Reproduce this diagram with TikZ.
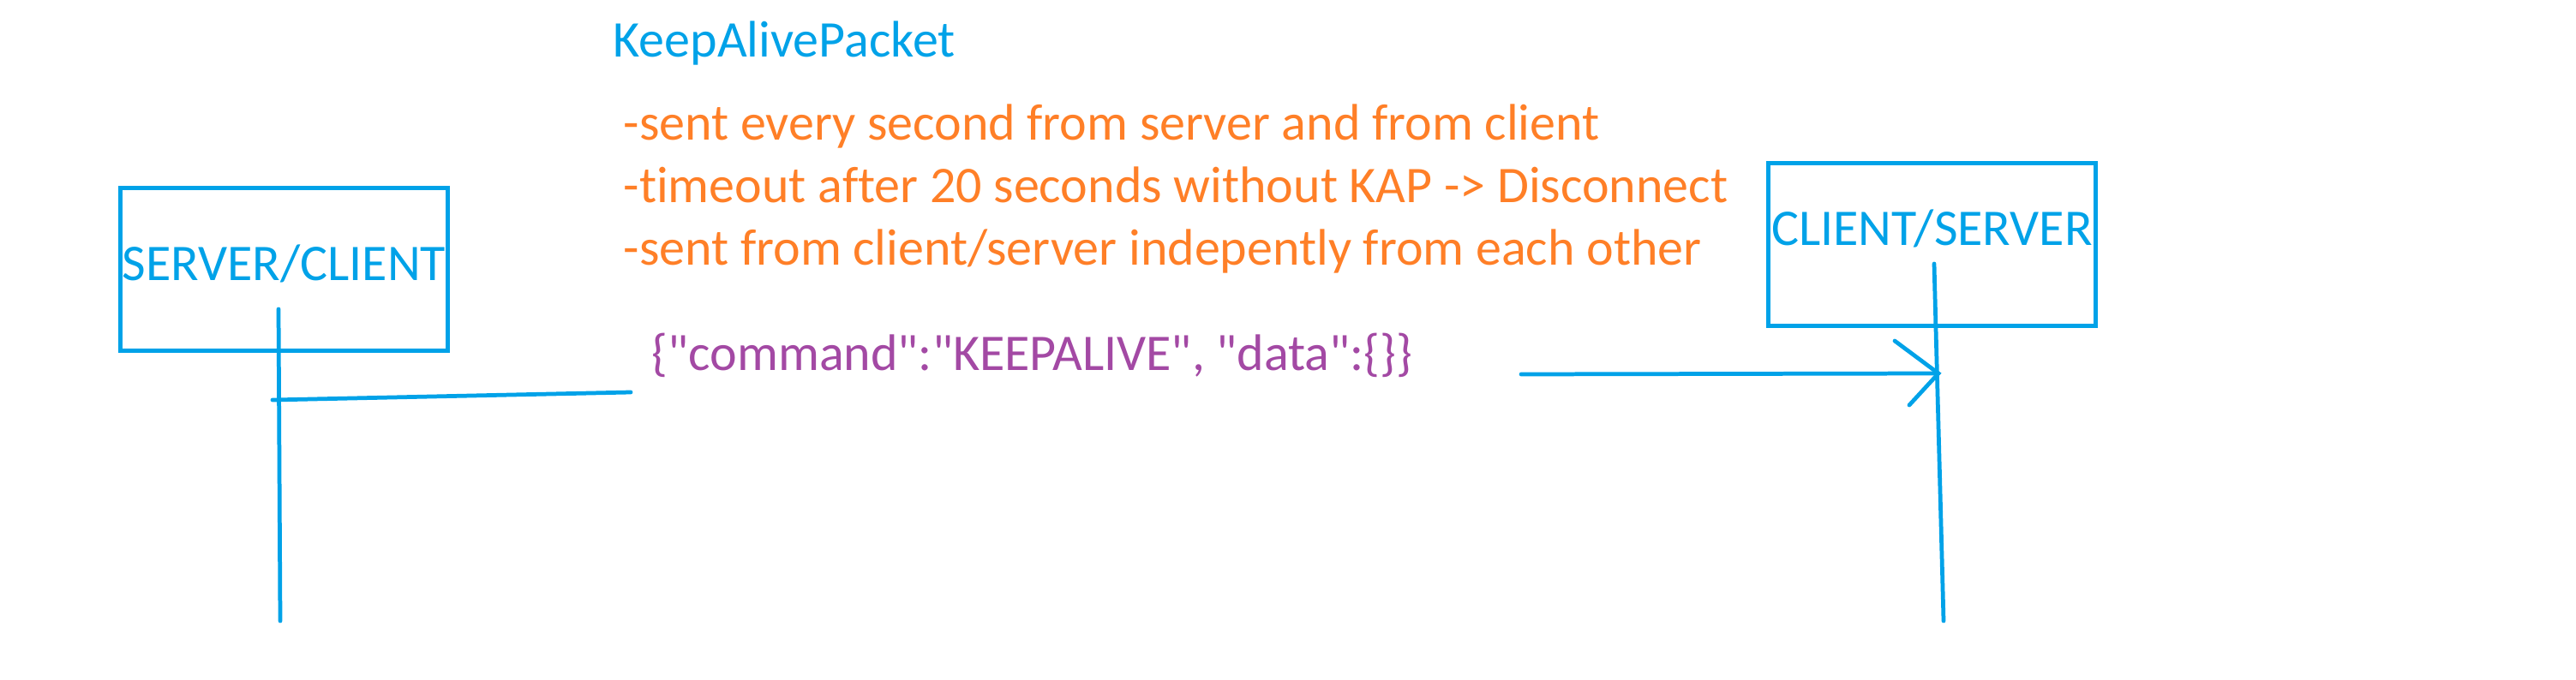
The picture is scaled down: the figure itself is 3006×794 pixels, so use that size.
\documentclass[tikz,border=0pt]{standalone}
\usepackage{fontspec}
\setmainfont{Carlito}[Ligatures={TeXOff,CommonOff}]
\usepackage{tikz}
\usetikzlibrary{positioning,calc}
\definecolor{paintblue}{RGB}{0,162,232}
\definecolor{paintorange}{RGB}{255,127,39}
\definecolor{paintpurple}{RGB}{163,73,164}

\begin{document}
\begin{tikzpicture}[
  x=0.01cm, y=-0.01cm,
  every node/.style={font=\fontsize{17.07}{20.8}\selectfont, inner sep=0pt},
  party/.style={draw=paintblue, line width=1.45pt, text=paintblue,
                minimum width=3.81cm, minimum height=1.89cm},
  pen/.style={draw=paintblue, line width=1.35pt, line cap=round},
  note/.style={text=paintorange, anchor=base west}
]
\useasboundingbox (0,0) rectangle (3006,794);

\node[party, text height=0.38cm, text depth=0.13cm] (srvcl) at (331.5,314.5) {SERVER/CLIENT};
\node[party, text height=0.37cm, text depth=0.34cm] (clsrv) at (2254.5,285.5) {CLIENT/SERVER};

\node[text=paintblue, anchor=base west] (title) at (715,66.7) {KeepAlivePacket};
\node[note] (note1) at (727,163) {-sent every second from server and from client};
\node[note] (note2) at (727,236) {-timeout after 20 seconds without KAP -> Disconnect};
\node[note] (note3) at (727,309) {-sent from client/server indepently from each other};
\node[text=paintpurple, anchor=base west] (packet) at (760,432)
  {\{"command":"KEEPALIVE", "data":\{\}\}};

% lifelines
\coordinate (srvtop) at (325,361);
\coordinate (srvbot) at (327,725);
\coordinate (clitop) at (2257,308);
\coordinate (clibot) at (2268,725);
\draw[pen] (srvtop) -- (srvbot);
\draw[pen] (clitop) -- (clibot);

% message, split around the packet text
\coordinate (outA) at (318,467);
\coordinate (outB) at (736,458);
\coordinate (inA) at (1775,437);
\coordinate (tip) at (2262,436);
\coordinate (headA) at (2211,398);
\coordinate (headB) at (2228,473);
\draw[pen] (outA) -- (outB);
\draw[pen] (inA) -- (tip);
\draw[pen] (headA) -- (tip) -- (headB);
\end{tikzpicture}
\end{document}
